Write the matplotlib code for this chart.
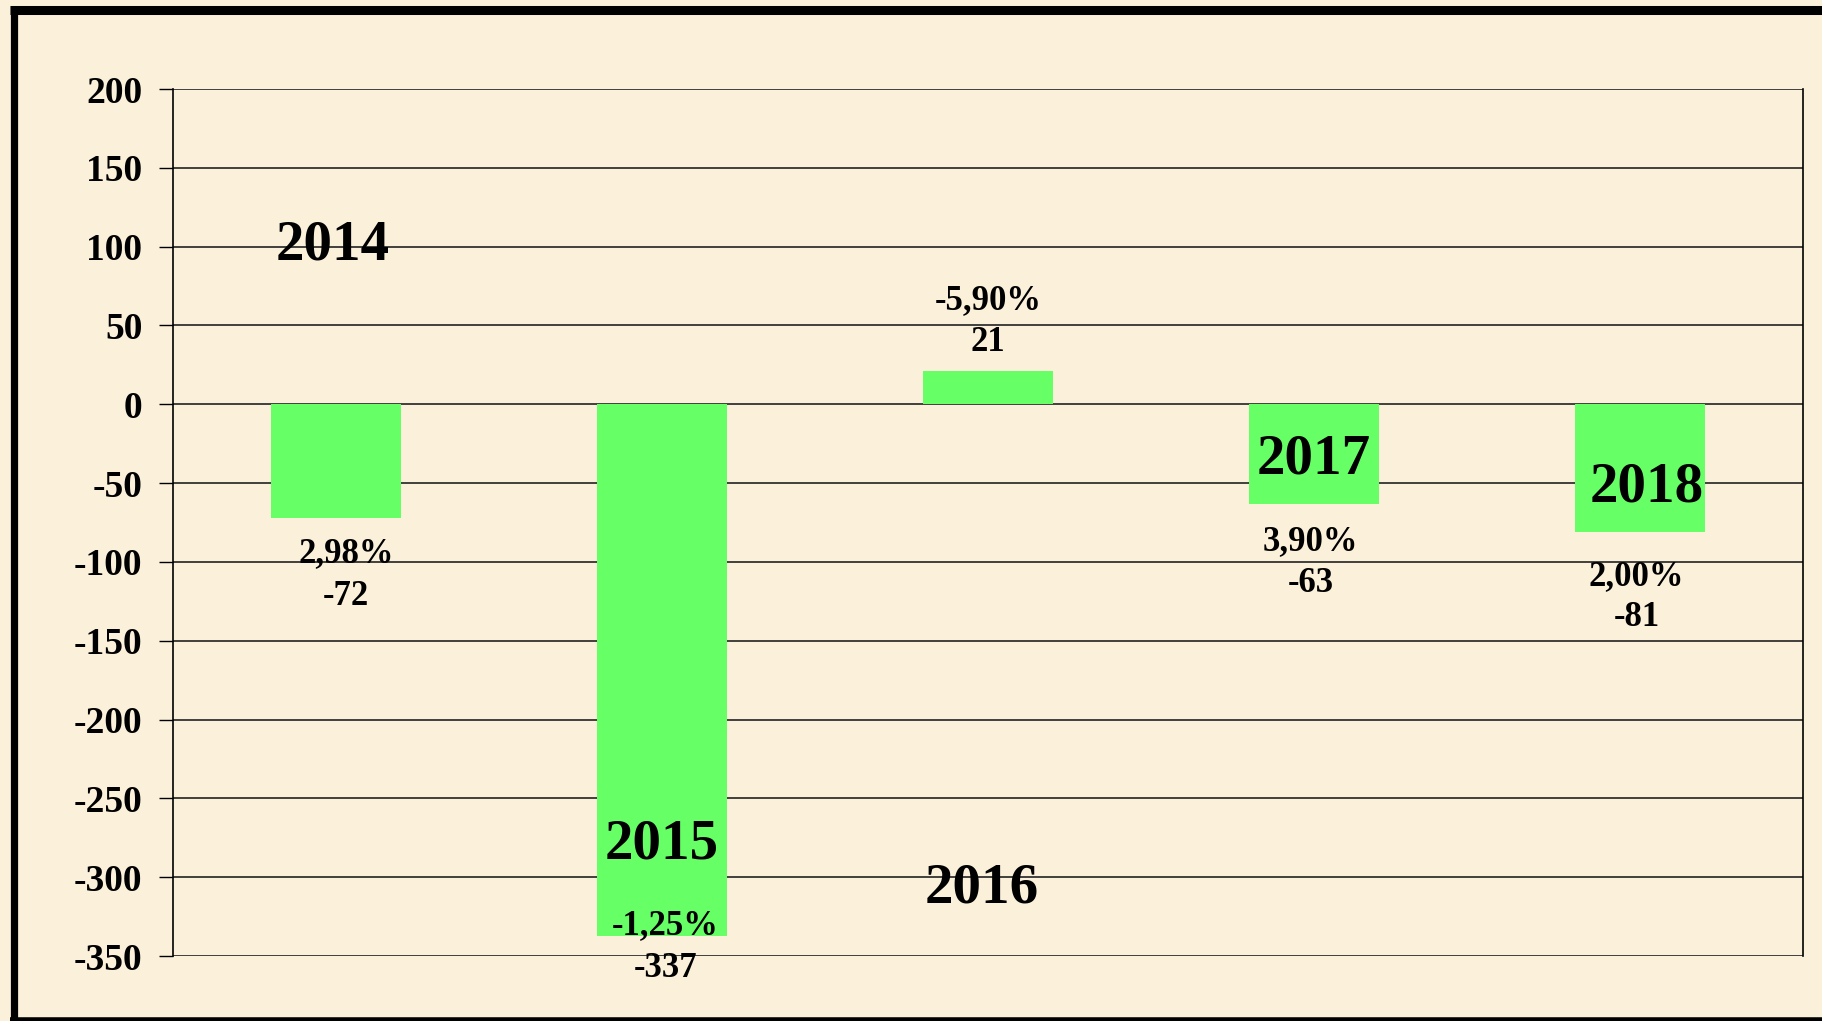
import matplotlib.pyplot as plt
from matplotlib.lines import Line2D

plt.rcParams['font.family'] = ['Liberation Serif', 'DejaVu Serif']
plt.rcParams['font.weight'] = 'bold'
plt.rcParams['axes.unicode_minus'] = False

# data
years = ['2014', '2015', '2016', '2017', '2018']
values = [-72, -337, 21, -63, -81]
percents = ['2,98%', '-1,25%', '-5,90%', '3,90%', '2,00%']

# where the labels sit (data units), as placed in the original
year_label_y = [101, -279, -307, -35, -53]
pct_label_y = [-95, -331, 66, -87, -109]
val_label_y = [-122, -358, 39, -114, -135]
label_dx = [0.03, 0.01, 0.0, -0.01, -0.01]
year_dx = [-0.01, 0.0, -0.02, 0.0, 0.02]

BG = '#FBF0DA'
GREEN = '#66FF66'


def plot_chart():
    fig = plt.figure(figsize=(18.22, 10.21), dpi=100, facecolor=BG)
    ax = fig.add_axes([173 / 1822, 1 - 956 / 1021, 1630 / 1822, 867 / 1021])
    ax.set_facecolor(BG)

    x = range(len(years))
    ax.bar(x, values, width=0.40, color=GREEN, zorder=2)

    ax.set_xlim(-0.5, len(years) - 0.5)
    ax.set_ylim(-350, 200)
    ax.set_yticks(range(-350, 201, 50))
    ax.tick_params(axis='y', labelsize=27, length=10, width=1, pad=12)
    ax.set_xticks([])
    ax.grid(axis='y', color='#222222', linewidth=1.2, zorder=1)

    for s in ['left', 'right']:
        ax.spines[s].set_linewidth(1.2)
    ax.spines['top'].set_visible(False)
    ax.spines['bottom'].set_visible(False)

    for i in x:
        ax.text(i + year_dx[i], year_label_y[i], years[i], ha='center', va='center',
                fontsize=41, fontweight='bold', zorder=3)
        ax.text(i + label_dx[i], pct_label_y[i], percents[i], ha='center', va='center',
                fontsize=25, fontweight='bold', zorder=3)
        ax.text(i + label_dx[i], val_label_y[i], str(values[i]), ha='center', va='center',
                fontsize=25, fontweight='bold', zorder=3)

    # black frame around the slide
    fig.add_artist(Line2D([13.5 / 1822, 13.5 / 1822], [0, 1 - 6 / 1021],
                          transform=fig.transFigure, color='black', lw=5.2,
                          solid_capstyle='butt'))
    fig.add_artist(Line2D([10 / 1822, 1], [1 - 10.5 / 1021, 1 - 10.5 / 1021],
                          transform=fig.transFigure, color='black', lw=6.5,
                          solid_capstyle='butt'))
    fig.add_artist(Line2D([10 / 1822, 1], [1.5 / 1021, 1.5 / 1021],
                          transform=fig.transFigure, color='black', lw=4,
                          solid_capstyle='butt'))

    fig.savefig('out.png', dpi=100, facecolor=BG)


def main():
    plot_chart()


if __name__ == "__main__":
    main()
